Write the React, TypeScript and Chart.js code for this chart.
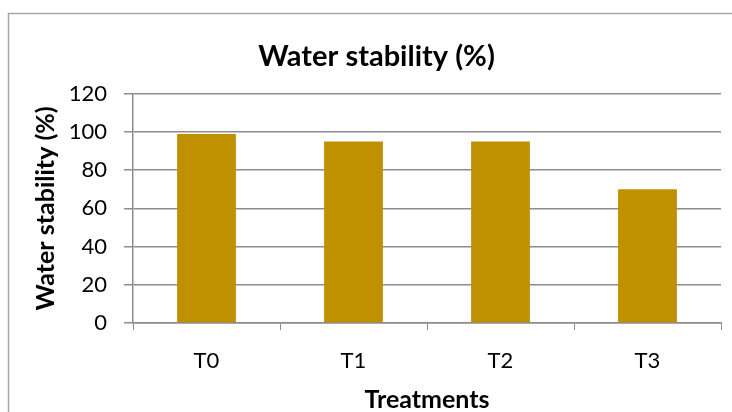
import React, { useEffect, useRef } from "react";
import { Chart, registerables } from "chart.js";

Chart.register(...registerables);

const categories = ["T0", "T1", "T2", "T3"];
const waterStability = [99, 95, 95, 70];
const yTicks = [0, 20, 40, 60, 80, 100, 120];
const chartTitle = "Water stability (%)";
const xTitle = "Treatments";
const yTitle = "Water stability (%)";

const FONT = "Lato, 'Liberation Sans', sans-serif";
const GRID = "#8c8c8c";

const borderPlugin = {
  id: "outerBorder",
  beforeDraw(chart: any) {
    const ctx = chart.ctx;
    ctx.save();
    ctx.fillStyle = "#ffffff";
    ctx.fillRect(0, 0, chart.width, chart.height);
    ctx.strokeStyle = "#a6a6a6";
    ctx.lineWidth = 1.5;
    ctx.strokeRect(8.5, 13.5, chart.width + 20, chart.height + 20);
    ctx.restore();
  },
};

export default function App() {
  const ref = useRef<HTMLCanvasElement | null>(null);

  useEffect(() => {
    document.body.style.margin = "0";
    const canvas = ref.current;
    if (!canvas) return;
    const chart = new Chart(canvas, {
      type: "bar",
      data: {
        labels: categories,
        datasets: [
          {
            label: yTitle,
            data: waterStability,
            backgroundColor: "#bf9000",
            borderWidth: 0,
            barPercentage: 0.4,
            categoryPercentage: 1,
          },
        ],
      },
      options: {
        animation: false,
        responsive: false,
        devicePixelRatio: 1,
        layout: { padding: { top: 0, left: 32, right: 11, bottom: 0 } },
        plugins: {
          legend: { display: false },
          tooltip: { enabled: false },
          title: {
            display: true,
            text: chartTitle,
            color: "#000",
            font: { family: FONT, size: 29, weight: "bold", lineHeight: 1.2 },
            padding: { top: 39, bottom: 20 },
          },
        },
        scales: {
          x: {
            afterFit: (s: any) => {
              s.height = 89;
            },
            grid: {
              display: true,
              drawOnChartArea: false,
              drawTicks: true,
              tickLength: 7,
              color: GRID,
              offset: true,
            },
            border: { display: true, color: GRID, width: 1.5 },
            ticks: {
              color: "#000",
              font: { family: FONT, size: 22, lineHeight: 1.2 },
              padding: 18,
            },
            title: {
              display: true,
              text: xTitle,
              color: "#000",
              font: { family: FONT, size: 25, weight: "bold", lineHeight: 1 },
              padding: { top: 0, bottom: 0 },
            },
          },
          y: {
            min: 0,
            max: 120,
            afterFit: (s: any) => {
              s.width = 101;
            },
            afterBuildTicks: (s: any) => {
              s.ticks = yTicks.map((v) => ({ value: v }));
            },
            grid: {
              color: GRID,
              lineWidth: 1.5,
              tickLength: 9,
            },
            border: { display: true, color: GRID, width: 1.5 },
            ticks: {
              color: "#000",
              font: { family: FONT, size: 22, lineHeight: 1.2 },
              padding: 17,
            },
            title: {
              display: true,
              text: yTitle,
              color: "#000",
              font: { family: FONT, size: 25, weight: "bold", lineHeight: 1 },
              padding: { top: 1, bottom: 0 },
            },
          },
        },
      },
      plugins: [borderPlugin],
    });
    return () => chart.destroy();
  }, []);

  return (
    <div style={{ width: 732, height: 412 }}>
      <canvas ref={ref} width={732} height={412} style={{ display: "block" }} />
    </div>
  );
}
